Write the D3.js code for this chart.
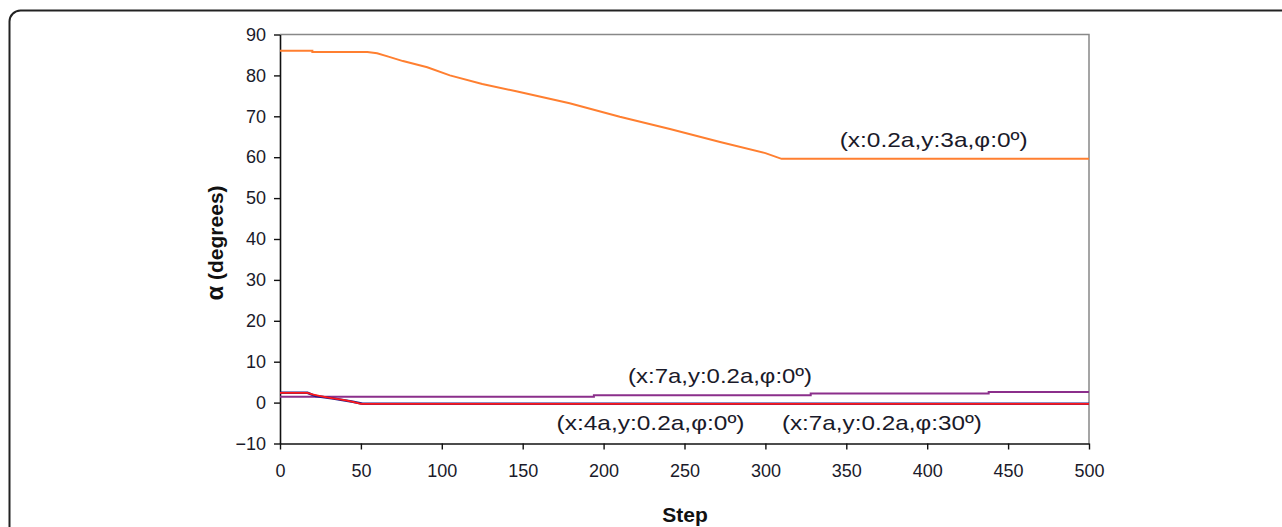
<!DOCTYPE html>
<html>
<head>
<meta charset="utf-8">
<script src="https://cdn.jsdelivr.net/npm/d3@7"></script>
<style>
  html, body { margin: 0; padding: 0; background: #fff; }
  svg { display: block; }
  text { font-family: "Liberation Sans", Arial, sans-serif; }
</style>
</head>
<body>
<svg id="chart" width="1282" height="527"></svg>
<script>
// ---- data ----
const xTicks = [0, 50, 100, 150, 200, 250, 300, 350, 400, 450, 500];
const yTicks = [-10, 0, 10, 20, 30, 40, 50, 60, 70, 80, 90];

const orangeSteps = [0, 20, 20, 54, 60, 67, 76, 91, 105, 125, 146, 179, 210, 241, 272, 300, 310, 500];
const orangeVals  = [86.0, 86.0, 85.7, 85.7, 85.4, 84.6, 83.5, 82.0, 80.0, 77.9, 76.1, 73.2, 69.9, 66.9, 63.7, 61.0, 59.6, 59.6];

const blueSteps = [0, 17, 22, 33, 45, 51, 500];
const blueVals  = [2.4, 2.4, 1.6, 1.0, 0.2, -0.3, -0.3];

const redSteps = [0, 17, 20, 25, 30, 35, 40, 45, 50, 500];
const redVals  = [2.4, 2.4, 2.0, 1.6, 1.2, 0.9, 0.6, 0.2, -0.3, -0.3];

const purpleSteps = [0, 194, 194, 328, 328, 438, 438, 500];
const purpleVals  = [1.4, 1.4, 1.8, 1.8, 2.2, 2.2, 2.6, 2.6];

const labels = [
  { text: "(x:0.2a,y:3a,φ:0º)", step: 404, val: 62.6, width: 188 },
  { text: "(x:7a,y:0.2a,φ:0º)", step: 272, val: 4.8, width: 184 },
  { text: "(x:4a,y:0.2a,φ:0º)", step: 229, val: -6.8, width: 188 },
  { text: "(x:7a,y:0.2a,φ:30º)", step: 372, val: -6.8, width: 200 }
];

// ---- layout ----
const svg = d3.select("#chart");
const x = d3.scaleLinear().domain([0, 500]).range([280, 1089]);
const y = d3.scaleLinear().domain([-10, 90]).range([443.5, 34.5]);

// outer rounded frame (only top/left visible)
svg.append("rect")
  .attr("x", 9.5).attr("y", 10.5)
  .attr("width", 1400).attr("height", 700)
  .attr("rx", 11).attr("ry", 11)
  .attr("fill", "none").attr("stroke", "#222").attr("stroke-width", 2);

// plot border top & right (gray)
svg.append("path")
  .attr("d", `M${x(0)},${y(90)}H${x(500)}V${y(-10)}`)
  .attr("fill", "none").attr("stroke", "#888").attr("stroke-width", 1.5);

// axes
const xAxis = svg.append("g")
  .attr("transform", `translate(0,${y(-10)})`)
  .call(d3.axisBottom(x).tickValues(xTicks).tickSize(6).tickPadding(15).tickSizeOuter(0));
const yAxis = svg.append("g")
  .attr("transform", `translate(${x(0)},0)`)
  .call(d3.axisLeft(y).tickValues(yTicks).tickSize(6).tickPadding(8).tickSizeOuter(0));

[xAxis, yAxis].forEach(g => {
  g.select(".domain").attr("stroke", "#111").attr("stroke-width", 1.6);
  g.selectAll(".tick line").attr("stroke", "#111").attr("stroke-width", 1.4);
  g.selectAll(".tick text")
    .attr("fill", "#1a1a2a")
    .style("font-family", "'Liberation Sans', Arial, sans-serif")
    .style("font-size", "18px");
});

// lines
const line = d3.line().x(d => x(d[0])).y(d => y(d[1]));
function series(steps, vals, color, w) {
  svg.append("path")
    .datum(steps.map((s, i) => [s, vals[i]]))
    .attr("d", line)
    .attr("fill", "none")
    .attr("stroke", color)
    .attr("stroke-width", w);
}
series(purpleSteps, purpleVals, "#8b2f8b", 2);
series(blueSteps, blueVals, "#1a1a8c", 2.5);
series(redSteps, redVals, "#ff1a1a", 1.8);
series(orangeSteps, orangeVals, "#ff7f30", 2);

// labels
svg.append("g").selectAll("text")
  .data(labels).join("text")
  .attr("x", d => x(d.step) - d.width / 2)
  .attr("y", d => y(d.val))
  .attr("textLength", d => d.width)
  .attr("lengthAdjust", "spacingAndGlyphs")
  .attr("fill", "#1a1a2a")
  .style("font-size", "21px")
  .text(d => d.text);

// axis titles
svg.append("text")
  .attr("x", 685).attr("y", 522)
  .attr("text-anchor", "middle")
  .style("font-size", "21px").style("font-weight", "bold")
  .attr("fill", "#111")
  .text("Step");

const yt = svg.append("text")
  .attr("transform", `translate(223,${(y(90) + y(-10)) / 2 + 4}) rotate(-90)`)
  .attr("text-anchor", "middle")
  .style("font-size", "21px").style("font-weight", "bold")
  .attr("fill", "#111");
yt.append("tspan").style("font-size", "24px").text("α");
yt.append("tspan").text(" (degrees)");
</script>
</body>
</html>
